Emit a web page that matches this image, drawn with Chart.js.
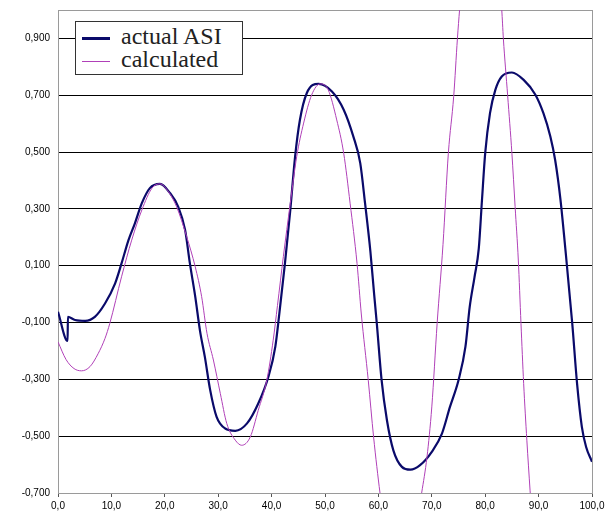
<!DOCTYPE html>
<html>
<head>
<meta charset="utf-8">
<script src="https://cdn.jsdelivr.net/npm/chart.js@4"></script>
<style>
body { margin: 0; background: #fff; }
#wrap { position: relative; width: 614px; height: 517px; }
#legend {
  position: absolute; left: 75px; top: 21px; width: 166px; height: 52px;
  border: 1px solid #333; background: #fff;
  font-family: "Liberation Serif", "Times New Roman", serif; font-size: 24px; color: #222;
}
.item { position: absolute; left: 0; height: 23px; }
.item .swatch { position: absolute; left: 6px; width: 28px; }
.item span { position: absolute; left: 45px; top: -5px; white-space: nowrap; line-height: 28px; }
</style>
</head>
<body>
<div id="wrap">
  <canvas id="myChart" width="614" height="517"></canvas>
  <div id="legend">
    <div class="item" style="top:5px"><div class="swatch" style="top:10px;border-top:3px solid #0a0a6a"></div><span>actual ASI</span></div>
    <div class="item" style="top:28px"><div class="swatch" style="top:11px;border-top:1px solid #b040b8"></div><span>calculated</span></div>
  </div>
</div>
<script>
// actual ASI
const actualX = [0, 1.8, 1.85, 3.2, 5.1, 6.9, 8.8, 10.7, 11.9, 13.2, 14.4, 15.7, 17.2, 19.1, 21.0, 22.5, 23.8, 24.7, 25.7, 26.6, 27.5, 28.5, 29.7, 31.3, 33.2, 35.4, 37.5, 39.4, 40.7, 41.5, 42.5, 43.5, 44.4, 45.3, 46.6, 48.8, 51.3, 53.5, 55.3, 56.6, 57.5, 58.5, 59.2, 59.7, 60.6, 61.6, 62.8, 64.4, 66.0, 67.8, 70.0, 71.9, 73.4, 75.0, 76.3, 77.1, 78.0, 78.8, 79.4, 80.0, 80.9, 81.9, 83.1, 85.0, 87.2, 89.4, 90.9, 92.2, 93.1, 94.1, 95.0, 96.3, 97.2, 98.1, 98.9, 100];
const actualY = [-0.062, -0.165, -0.08, -0.091, -0.094, -0.08, -0.033, 0.038, 0.108, 0.19, 0.249, 0.32, 0.373, 0.388, 0.355, 0.308, 0.226, 0.108, -0.009, -0.13, -0.221, -0.338, -0.432, -0.473, -0.481, -0.455, -0.385, -0.291, -0.185, -0.06, 0.108, 0.296, 0.484, 0.613, 0.708, 0.74, 0.713, 0.649, 0.555, 0.461, 0.32, 0.15, 0.0, -0.103, -0.303, -0.444, -0.55, -0.608, -0.618, -0.602, -0.555, -0.491, -0.397, -0.303, -0.185, -0.045, 0.06, 0.161, 0.332, 0.496, 0.637, 0.719, 0.766, 0.78, 0.754, 0.702, 0.637, 0.555, 0.472, 0.332, 0.161, -0.103, -0.314, -0.467, -0.538, -0.59];

// calculated (runs off the plot top and bottom)
const calcX = [0, 1.5, 3, 4.4, 6, 7.5, 8.8, 9.7, 11.9, 13.8, 15.7, 17.6, 19.1, 20.7, 22.2, 24.1, 25.7, 26.9, 27.9, 29.1, 30.4, 31.6, 33.2, 34.4, 36.0, 37.5, 39.1, 40.3, 41.1, 42.2, 43.5, 44.7, 46.0, 47.5, 49.1, 50.6, 52.2, 53.5, 54.7, 56.0, 56.8, 58.1, 59.1, 60.3, 62, 64, 66, 68.1, 69.1, 70.0, 71.0, 72.1, 73.1, 74.1, 74.8, 75.2, 77, 79, 81, 83.1, 83.4, 84.2, 85.0, 85.6, 86.2, 86.7, 87.2, 87.8, 88.4, 89];
const calcY = [-0.168, -0.23, -0.262, -0.27, -0.255, -0.21, -0.156, -0.103, 0.061, 0.19, 0.296, 0.373, 0.388, 0.36, 0.308, 0.202, 0.096, -0.009, -0.138, -0.232, -0.35, -0.455, -0.514, -0.532, -0.503, -0.409, -0.303, -0.162, -0.04, 0.132, 0.32, 0.484, 0.602, 0.701, 0.74, 0.719, 0.613, 0.496, 0.32, 0.108, -0.07, -0.303, -0.503, -0.7, -0.93, -1.02, -0.95, -0.7, -0.573, -0.397, -0.103, 0.175, 0.496, 0.696, 0.9, 1.0, 1.35, 1.5, 1.4, 1.0, 0.9, 0.7, 0.496, 0.308, 0.12, -0.103, -0.314, -0.514, -0.69, -0.85];

const xTicks = [0, 10, 20, 30, 40, 50, 60, 70, 80, 90, 100];
const yTicks = [-0.7, -0.5, -0.3, -0.1, 0.1, 0.3, 0.5, 0.7, 0.9];

const pts = (xs, ys) => xs.map((x, i) => ({ x: x, y: ys[i] }));
const comma = (v, d) => v.toFixed(d).replace('.', ',');

// grey frame round the plot, drawn over the grid
const frame = {
  id: 'frame',
  beforeDatasetsDraw(chart) {
    const a = chart.chartArea, c = chart.ctx;
    c.save();
    c.strokeStyle = '#9a9a9a';
    c.lineWidth = 1;
    c.strokeRect(Math.round(a.left) + 0.5, Math.round(a.top) + 0.5, Math.round(a.right - a.left), Math.round(a.bottom - a.top));
    c.restore();
  }
};

const ctx = document.getElementById('myChart').getContext('2d');
const chart = new Chart(ctx, {
  type: 'line',
  data: {
    datasets: [{
      label: 'calculated',
      data: pts(calcX, calcY),
      borderColor: '#b040b8',
      borderWidth: 1,
      pointRadius: 0,
      cubicInterpolationMode: 'monotone'
    }, {
      label: 'actual ASI',
      data: pts(actualX, actualY),
      borderColor: '#0a0a6a',
      borderWidth: 2.2,
      pointRadius: 0,
      cubicInterpolationMode: 'monotone'
    }]
  },
  options: {
    responsive: false,
    animation: false,
    layout: { padding: { top: 10, right: 22, left: 0, bottom: 0 } },
    plugins: { legend: { display: false }, tooltip: { enabled: false } },
    scales: {
      x: {
        type: 'linear', min: 0, max: 100,
        afterBuildTicks: s => { s.ticks = xTicks.map(v => ({ value: v })); },
        afterFit: s => { s.height = 24; s.paddingLeft = 0; s.paddingRight = 0; },
        grid: { drawOnChartArea: false, drawTicks: true, tickLength: 4, color: '#555' },
        border: { display: false },
        ticks: { padding: 3, color: '#000', maxRotation: 0, autoSkip: false,
          font: { family: "'Liberation Sans', Arial", size: 10 },
          callback: v => comma(v, 1) }
      },
      y: {
        type: 'linear', min: -0.7, max: 1.0,
        afterBuildTicks: s => { s.ticks = yTicks.map(v => ({ value: v })); },
        afterFit: s => { s.width = 58; s.paddingTop = 0; s.paddingBottom = 0; },
        grid: { color: '#000', lineWidth: 1, drawTicks: false },
        border: { display: false },
        ticks: { padding: 8, color: '#000', autoSkip: false,
          font: { family: "'Liberation Sans', Arial", size: 10 },
          callback: v => comma(v, 3) }
      }
    }
  },
  plugins: [frame]
});
</script>
</body>
</html>
